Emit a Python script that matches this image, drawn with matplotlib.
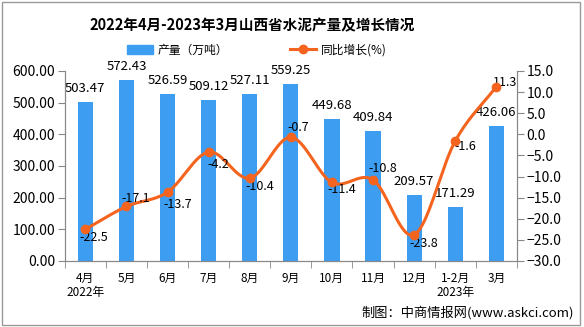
import numpy as np
import matplotlib.pyplot as plt
from matplotlib.lines import Line2D
from matplotlib.patches import Patch, Rectangle

plt.rcParams['font.family'] = ['Noto Sans CJK SC', 'DejaVu Sans']

# ── data ──────────────────────────────────────────────────────────────
months = ["4月\n2022年", "5月", "6月", "7月", "8月", "9月", "10月", "11月",
          "12月", "1-2月\n2023年", "3月"]
output = [503.47, 572.43, 526.59, 509.12, 527.11, 559.25, 449.68, 409.84,
          209.57, 171.29, 426.06]
growth = [-22.5, -17.1, -13.7, -4.2, -10.4, -0.7, -11.4, -10.8, -23.8, -1.6, 11.3]

# label offsets (points) for the growth labels
g_off = [(6, -6), (7, 6), (7, -9), (7, -9), (7, -6), (5, 7), (7, -5), (7, 8),
         (7, -6), (7, -4), (6, 3)]

BLUE = "#3d9df0"
ORANGE = "#f5641e"
GRAY = "#888888"


def smooth(xs, ys, n=20):
    # catmull-rom curve through the points, just for drawing
    xs = np.asarray(xs, float)
    ys = np.asarray(ys, float)
    px = np.concatenate([[2 * xs[0] - xs[1]], xs, [2 * xs[-1] - xs[-2]]])
    py = np.concatenate([[2 * ys[0] - ys[1]], ys, [2 * ys[-1] - ys[-2]]])
    t = np.linspace(0, 1, n)[:, None]
    out_x, out_y = [], []
    for i in range(1, len(px) - 2):
        for p, out in ((px, out_x), (py, out_y)):
            p0, p1, p2, p3 = p[i - 1], p[i], p[i + 1], p[i + 2]
            seg = 0.5 * ((2 * p1) + (-p0 + p2) * t + (2 * p0 - 5 * p1 + 4 * p2 - p3) * t ** 2
                         + (-p0 + 3 * p1 - 3 * p2 + p3) * t ** 3)
            out.extend(seg.ravel())
    return np.array(out_x), np.array(out_y)


fig = plt.figure(figsize=(5.84, 3.27), dpi=100)
ax = fig.add_axes([0.111, 0.202, 0.774, 0.581])
ax2 = ax.twinx()

x = np.arange(len(months))
ax.bar(x, output, width=0.37, color=BLUE, zorder=2)
for xi, v in zip(x, output):
    ax.annotate(f"{v:.2f}", (xi, v), xytext=(0, 5), textcoords="offset points",
                ha="center", va="bottom", fontsize=9.5)

ax.set_xlim(-0.5, len(months) - 0.5)
ax.set_ylim(0, 600)
ax.set_yticks(np.arange(0, 601, 100))
ax.set_yticklabels([f"{v:.2f}" for v in np.arange(0, 601, 100)], fontsize=10)
ax.set_xticks(x)
ax.set_xticklabels(months, fontsize=8.5, linespacing=1.05)
ax.set_xticks(np.arange(-0.5, len(months), 1), minor=True)
ax.tick_params(axis="x", which="major", length=0, pad=8)
ax.tick_params(axis="x", which="minor", length=5, color=GRAY)
ax.tick_params(axis="y", length=5, color=GRAY, pad=2)

sx, sy = smooth(x, growth)
ax2.plot(sx, sy, color=ORANGE, lw=2.2, zorder=3)
ax2.plot(x, growth, "o", color=ORANGE, ms=6, zorder=4)
for xi, v, off in zip(x, growth, g_off):
    ax2.annotate(f"{v:.1f}", (xi, v), xytext=off, textcoords="offset points",
                 ha="center", va="center", fontsize=9)
ax2.set_ylim(-30, 15)
ax2.set_yticks(np.arange(-30, 16, 5))
ax2.set_yticklabels([f"{v:.1f}".replace("-", "−") for v in np.arange(-30, 16, 5)], fontsize=10)
ax2.tick_params(axis="y", length=5, color=GRAY, pad=2)

for a in (ax, ax2):
    a.spines["top"].set_visible(False)
    for s in ("left", "right", "bottom"):
        a.spines[s].set_color(GRAY)

fig.text(0.432, 0.924, "2022年4月-2023年3月山西省水泥产量及增长情况",
         ha="center", va="center", fontsize=10.5, fontweight="bold")

handles = [Patch(color=BLUE),
           Line2D([0], [0], color=ORANGE, lw=2.2, marker="o", ms=6)]
fig.legend(handles, ["产量（万吨）", "同比增长(%)"], loc="center",
           bbox_to_anchor=(0.44, 0.847), ncol=2, frameon=False, fontsize=8.5,
           handlelength=2.2, columnspacing=5.2, handletextpad=0.4)

fig.text(0.982, 0.045, "制图：中商情报网(www.askci.com)", ha="right", va="center",
         fontsize=9.5)

fig.patches.append(Rectangle((0.003, 0.005), 0.99, 0.99, transform=fig.transFigure,
                             fill=False, edgecolor="#999999", lw=1))

fig.savefig("out.png", dpi=100)
